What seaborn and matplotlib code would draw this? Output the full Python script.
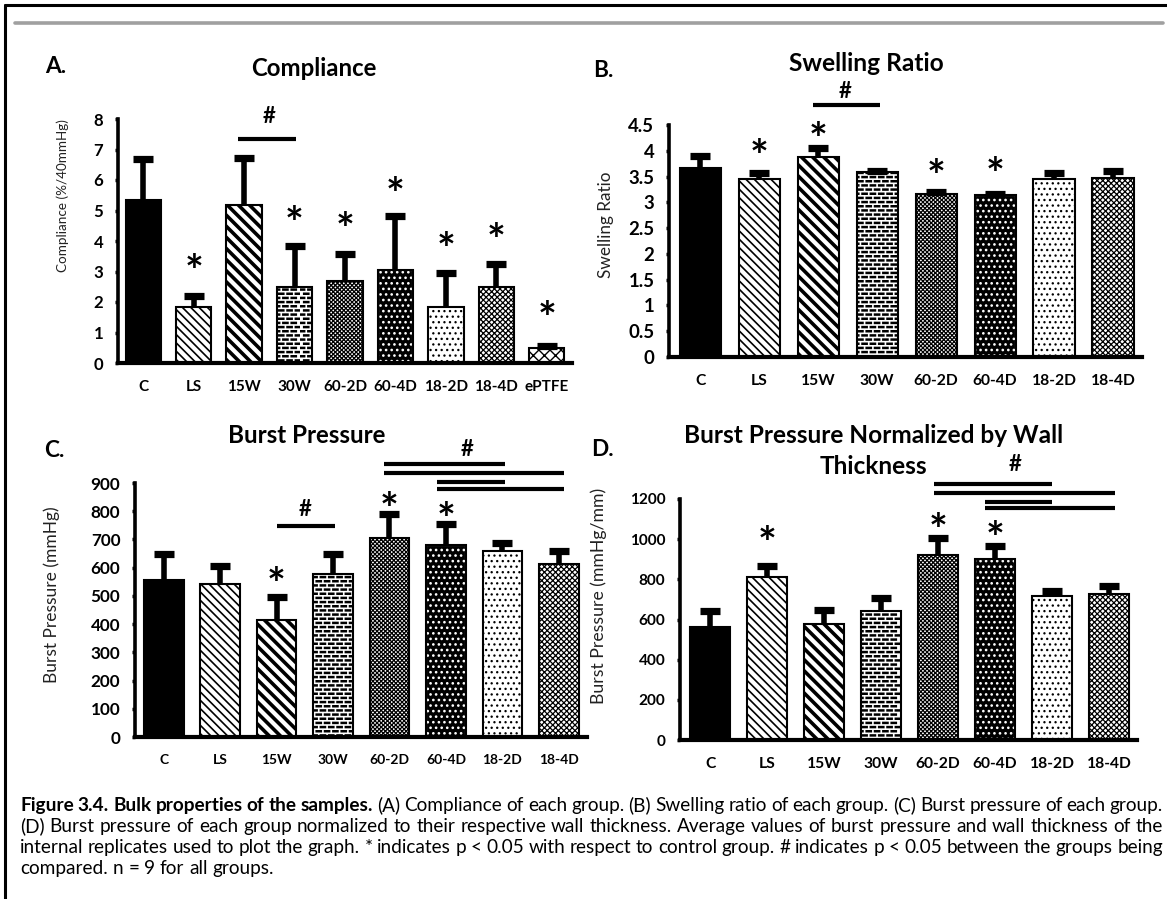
import numpy as np
import pandas as pd
import matplotlib
matplotlib.use("Agg")
import matplotlib.pyplot as plt
import seaborn as sns
from matplotlib import hatch as mhatch
from matplotlib.path import Path
from matplotlib.lines import Line2D
from matplotlib.patches import Rectangle
from matplotlib.textpath import TextPath
from matplotlib.font_manager import FontProperties
from matplotlib import transforms as mtransforms

# ------------------------------------------------------------------ data
groups_a = ["C", "LS", "15W", "30W", "60-2D", "60-4D", "18-2D", "18-4D", "ePTFE"]
compliance = [5.35, 1.82, 5.17, 2.49, 2.68, 3.04, 1.84, 2.49, 0.50]
compliance_err = [1.35, 0.38, 1.55, 1.35, 0.89, 1.78, 1.11, 0.77, 0.05]

groups = ["C", "LS", "15W", "30W", "60-2D", "60-4D", "18-2D", "18-4D"]
swelling = [3.66, 3.45, 3.87, 3.58, 3.17, 3.15, 3.45, 3.48]
swelling_err = [0.24, 0.11, 0.18, 0.035, 0.03, 0.02, 0.11, 0.13]

burst = [557, 543, 415, 577, 705, 680, 660, 613]
burst_err = [92, 63, 80, 72, 86, 74, 27, 46]

burst_norm = [561, 810, 578, 644, 921, 901, 717, 727]
burst_norm_err = [81, 56, 69, 64, 83, 64, 24, 41]

yticks_a = [0, 1, 2, 3, 4, 5, 6, 7, 8]
yticks_b = [0, 0.5, 1, 1.5, 2, 2.5, 3, 3.5, 4, 4.5]
yticks_c = [0, 100, 200, 300, 400, 500, 600, 700, 800, 900]
yticks_d = [0, 200, 400, 600, 800, 1000, 1200]
yticklabels_b = ["0", "0.5", "1", "1.5", "2", "2.5", "3", "3.5", "4", "4.5"]

# significance marks (* vs control) : group, level
star_groups_a = ["LS", "30W", "60-2D", "60-4D", "18-2D", "18-4D", "ePTFE"]
star_levels_a = [3.38, 4.95, 4.75, 5.9, 4.1, 4.4, 1.85]
star_groups_b = ["LS", "15W", "60-2D", "60-4D"]
star_levels_b = [4.12, 4.45, 3.73, 3.77]
star_groups_c = ["15W", "60-2D", "60-4D"]
star_levels_c = [581, 847, 811]
star_groups_d = ["LS", "60-2D", "60-4D"]
star_levels_d = [1036, 1100, 1061]

# comparison bars (#): from-group, to-group, level
pairs_a = [("15W", "30W", 7.34)]
pairs_b = [("15W", "30W", 4.88)]
pairs_c = [("15W", "30W", 748), ("60-2D", "18-2D", 967), ("60-2D", "18-4D", 935),
           ("60-4D", "18-2D", 904), ("60-4D", "18-4D", 879)]
pairs_d = [("60-2D", "18-2D", 1275), ("60-2D", "18-4D", 1228),
           ("60-4D", "18-2D", 1187), ("60-4D", "18-4D", 1154)]
hash_a = [(2.5, 8.13)]
hash_b = [(2.45, 5.18)]
hash_c = [(2.5, 811), (5.37, 1024)]
hash_d = [(5.35, 1379)]

caption_bold = "Figure 3.4. Bulk properties of the samples."
caption_lines = [
    " (A) Compliance of each group. (B) Swelling ratio of each group. (C) Burst pressure of each group.",
    "(D) Burst pressure of each group normalized to their respective wall thickness. Average values of burst pressure and wall thickness of the",
    "internal replicates used to plot the graph. * indicates p < 0.05 with respect to control group. # indicates p < 0.05 between the groups being",
    "compared. n = 9 for all groups.",
]

# ------------------------------------------------------------------ custom dashed horizontal hatch (for "30W")
class DashedHorizontalHatch(mhatch.HatchPatternBase):
    def __init__(self, hatch, density):
        self.num_lines = int((hatch.count('-') + hatch.count('+')) * density)
        self.num_dashes = 12
        self.num_vertices = self.num_lines * self.num_dashes * 2

    def set_vertices_and_codes(self, vertices, codes):
        if self.num_lines <= 0:
            return
        steps, stepsize = np.linspace(0.0, 1.0, self.num_lines, False, retstep=True)
        steps += stepsize / 2.0
        period = 1.0 / self.num_dashes
        dash = 0.5 * period
        k = 0
        for i, y in enumerate(steps):
            shift = period / 2.0 if i % 2 else 0.0
            for j in range(self.num_dashes):
                x0 = j * period + shift
                vertices[k] = [x0, y]
                vertices[k + 1] = [x0 + dash, y]
                codes[k] = Path.MOVETO
                codes[k + 1] = Path.LINETO
                k += 2

try:
    mhatch._hatch_types[0] = DashedHorizontalHatch
except Exception:
    pass

# ------------------------------------------------------------------ style
sns.set_theme(style="white")
FONT = ["Lato", "DejaVu Sans"]
plt.rcParams["font.family"] = FONT
plt.rcParams["hatch.linewidth"] = 1.0

W, H = 1167, 899
fig = plt.figure(figsize=(W / 100, H / 100), dpi=100)
fig.patch.set_facecolor("white")
renderer = fig.canvas.get_renderer()


def fx(x):
    return x / W


def fy(y):
    return 1 - y / H


def text_width(s, fs, weight="normal"):
    t = fig.text(0, 0, s, fontsize=fs, fontweight=weight)
    w = t.get_window_extent(renderer=renderer).width
    t.remove()
    return w


def fit_fs(s, target_px, weight="normal"):
    return 10.0 * target_px / text_width(s, 10.0, weight)


# bar styles: face colour, hatch colour, hatch, hatch linewidth
bar_styles = {
    "C": ("black", "black", None, 1.0),
    "LS": ("white", "black", "\\" * 4, 1.2),
    "15W": ("white", "black", "\\" * 3, 2.6),
    "30W": ("white", "black", "----", 1.8),
    "60-2D": ("white", "black", "x" * 8, 0.9),
    "60-4D": ("black", "white", "...", 1.1),
    "18-2D": ("white", "black", "...", 0.9),
    "18-4D": ("white", "black", "x" * 6, 0.9),
    "ePTFE": ("white", "black", "xxx", 1.0),
}


def glyph_offset(ch, height_px, weight="bold"):
    fp = FontProperties(family=FONT, weight=weight)
    ext = TextPath((0, 0), ch, size=10, prop=fp).get_extents()
    target_pt = height_px * 72 / 100
    fs = 10 * target_pt / ext.height
    y0, y1 = ext.y0 * fs / 10, ext.y1 * fs / 10
    return fs, -(y0 + y1) / 2


def mark(ax, x, y, ch, height_px):
    fs, dy = glyph_offset(ch, height_px)
    tr = mtransforms.offset_copy(ax.transData, fig=fig, y=dy, units="points")
    ax.text(x, y, ch, transform=tr, ha="center", va="baseline", fontsize=fs,
            fontweight="bold", color="black", clip_on=False, zorder=6)


def panel(rect_px, cats, vals, errs, xlim, ylim, yticks, yticklabels,
          xt_fit, yt_fit, stars_g, stars_v, pairs, hashes, pair_offsets):
    left, right, y0, ytop = rect_px
    ax = fig.add_axes([fx(left), fy(y0), (right - left) / W, (y0 - ytop) / H])
    df = pd.DataFrame({"group": cats, "value": vals})
    sns.barplot(data=df, x="group", y="value", order=cats, ax=ax, width=0.7,
                color="white", edgecolor="black", linewidth=1.5, errorbar=None,
                saturation=1)
    for cat, p in zip(cats, ax.patches):
        face, hcol, hatch, hlw = bar_styles[cat]
        p.set_facecolor(face)
        p.set_zorder(2)
        if hatch:
            p.set_hatch(hatch)
            if hasattr(p, "set_hatch_linewidth"):
                p.set_hatch_linewidth(hlw)
        if hcol != "black":
            p.set_edgecolor(hcol)
            ax.add_patch(Rectangle(p.get_xy(), p.get_width(), p.get_height(),
                                   fill=False, edgecolor="black", linewidth=1.5,
                                   zorder=2.5))
    n = len(cats)
    cont = ax.errorbar(np.arange(n), vals, yerr=[np.zeros(n), errs], fmt="none",
                       ecolor="black", elinewidth=4.0, capsize=7, capthick=5.2,
                       zorder=4)
    caps = cont.lines[1]
    if len(caps) == 2:
        caps[0].set_visible(False)

    ax.set_xlim(*xlim)
    ax.set_ylim(*ylim)
    ax.set_xticks(np.arange(n), labels=cats)
    ax.set_yticks(yticks, labels=yticklabels)
    ax.set_xlabel("")
    ax.set_ylabel("")
    for s in ["top", "right"]:
        ax.spines[s].set_visible(False)
    ax.spines["left"].set_linewidth(2.6)
    ax.spines["bottom"].set_linewidth(3.0)
    ax.spines["left"].set_color("black")
    ax.spines["bottom"].set_color("black")
    ax.spines["left"].set_zorder(5)
    ax.spines["bottom"].set_zorder(5)
    ax.set_facecolor("none")
    ax.grid(False)
    xfs = fit_fs(xt_fit[0], xt_fit[1], "bold")
    yfs = fit_fs(yt_fit[0], yt_fit[1], "bold")
    ax.tick_params(axis="y", direction="out", left=True, length=2.5, width=2.5,
                   pad=8, color="black", labelcolor="black", labelsize=yfs)
    ax.tick_params(axis="x", bottom=False, length=0, pad=12.5, labelcolor="black",
                   labelsize=xfs)
    for lbl in ax.get_xticklabels() + ax.get_yticklabels():
        lbl.set_fontweight("bold")

    pos = {c: i for i, c in enumerate(cats)}
    for g, v in zip(stars_g, stars_v):
        mark(ax, pos[g], v, "*", 15)
    for (g1, g2, lvl) in pairs:
        o1, o2 = pair_offsets.get((g1, g2), (0.0, 0.0))
        ax.plot([pos[g1] + o1, pos[g2] + o2], [lvl, lvl], color="black", lw=3.0,
                solid_capstyle="butt", clip_on=False, zorder=6)
    for (hx, hy) in hashes:
        mark(ax, hx, hy, "#", 16)
    return ax


offs_cd = {("15W", "30W"): (0.0, 0.03),
           ("60-2D", "18-2D"): (-0.09, 0.04), ("60-2D", "18-4D"): (-0.09, 0.1),
           ("60-4D", "18-2D"): (-0.16, 0.04), ("60-4D", "18-4D"): (-0.16, 0.1)}

axA = panel((118, 572, 363, 119), groups_a, compliance, compliance_err,
            (-0.5, 8.5), (0, 8), yticks_a, [str(v) for v in yticks_a],
            ("60-2D", 44), ("0", 9.8),
            star_groups_a, star_levels_a, pairs_a, hash_a,
            {("15W", "30W"): (-0.12, 0.03)})
axB = panel((669, 1142, 357, 125), groups, swelling, swelling_err,
            (-0.53, 7.49), (0, 4.5), yticks_b, yticklabels_b,
            ("60-2D", 45), ("4.5", 26),
            star_groups_b, star_levels_b, pairs_b, hash_b,
            {("15W", "30W"): (-0.08, 0.05)})
axC = panel((135, 587, 737, 483), groups, burst, burst_err,
            (-0.51, 7.5), (0, 900), yticks_c, [str(v) for v in yticks_c],
            ("60-2D", 40), ("900", 30),
            star_groups_c, star_levels_c, pairs_c, hash_c, offs_cd)
axD = panel((680, 1137, 740, 499), groups, burst_norm, burst_norm_err,
            (-0.53, 7.49), (0, 1200), yticks_d, [str(v) for v in yticks_d],
            ("60-2D", 45), ("1200", 36),
            star_groups_d, star_levels_d, pairs_d, hash_d,
            {("60-2D", "18-2D"): (-0.07, 0.0), ("60-2D", "18-4D"): (-0.07, 0.1),
             ("60-4D", "18-2D"): (-0.17, 0.0), ("60-4D", "18-4D"): (-0.17, 0.1)})

# ------------------------------------------------------------------ titles, panel letters, axis titles
titles = [("Compliance", 314, 76, 126), ("Swelling Ratio", 866, 71, 155),
          ("Burst Pressure", 307, 443, 158),
          ("Burst Pressure Normalized by Wall", 874, 443, 380)]
for s, cx, by, wpx in titles:
    fs_t = fit_fs(s, wpx, "bold")
    fig.text(fx(cx), fy(by), s, ha="center", va="baseline", fontsize=fs_t,
             fontweight="bold", color="black")
fs_t = fit_fs("Burst Pressure Normalized by Wall", 380, "bold")
fig.text(fx(873), fy(474), "Thickness", ha="center", va="baseline", fontsize=fs_t,
         fontweight="bold", color="black")

letters = [("A.", 45, 73), ("B.", 593, 77), ("C.", 44, 457), ("D.", 591, 456)]
fs_l = fit_fs("A.", 21, "bold")
for s, lx, by in letters:
    fig.text(fx(lx), fy(by), s, ha="left", va="baseline", fontsize=fs_l,
             fontweight="bold", color="black")

ylabels = [("Compliance (%/40mmHg)", 63, 196, 152),
           ("Swelling Ratio", 606, 225, 106),
           ("Burst Pressure (mmHg)", 52, 595, 176),
           ("Burst Pressure (mmHg/mm)", 599, 596, 215)]
for s, cx, cy, lpx in ylabels:
    fs_y = fit_fs(s, lpx, "normal")
    fig.text(fx(cx), fy(cy), s, rotation=90, ha="center", va="center",
             fontsize=fs_y, color="#222222")

# ------------------------------------------------------------------ frame lines
fig.add_artist(Line2D([fx(5), fx(1167)], [fy(5), fy(5)], color="black", lw=2.2))
fig.add_artist(Line2D([fx(5), fx(5)], [fy(5), fy(899)], color="black", lw=2.2))
fig.add_artist(Line2D([fx(15), fx(1163)], [fy(23), fy(23)], color="#a0a0a0", lw=2.6))

# ------------------------------------------------------------------ caption (justified)
cap_left, cap_right = 20, 1163
baselines = [811, 832, 853, 874]
line_words = []
w0 = [(w, "bold") for w in caption_bold.split()] + [(w, "normal") for w in caption_lines[0].split()]
line_words.append(w0)
for ln in caption_lines[1:]:
    line_words.append([(w, "normal") for w in ln.split()])


def natural_width(words, fs):
    space = text_width("a b", fs) - text_width("ab", fs)
    return sum(text_width(w, fs, wt) for w, wt in words) + space * (len(words) - 1)


fs_c = 10.0 * (cap_right - cap_left) / natural_width(line_words[1], 10.0)
for i, (words, by) in enumerate(zip(line_words, baselines)):
    widths = [text_width(w, fs_c, wt) for w, wt in words]
    if i < len(line_words) - 1:
        gap = (cap_right - cap_left - sum(widths)) / (len(words) - 1)
    else:
        gap = text_width("a b", fs_c) - text_width("ab", fs_c)
    x = cap_left
    for (w, wt), ww in zip(words, widths):
        fig.text(fx(x), fy(by), w, ha="left", va="baseline", fontsize=fs_c,
                 fontweight=wt, color="black")
        x += ww + gap

fig.savefig("out.png", dpi=100, facecolor="white")
